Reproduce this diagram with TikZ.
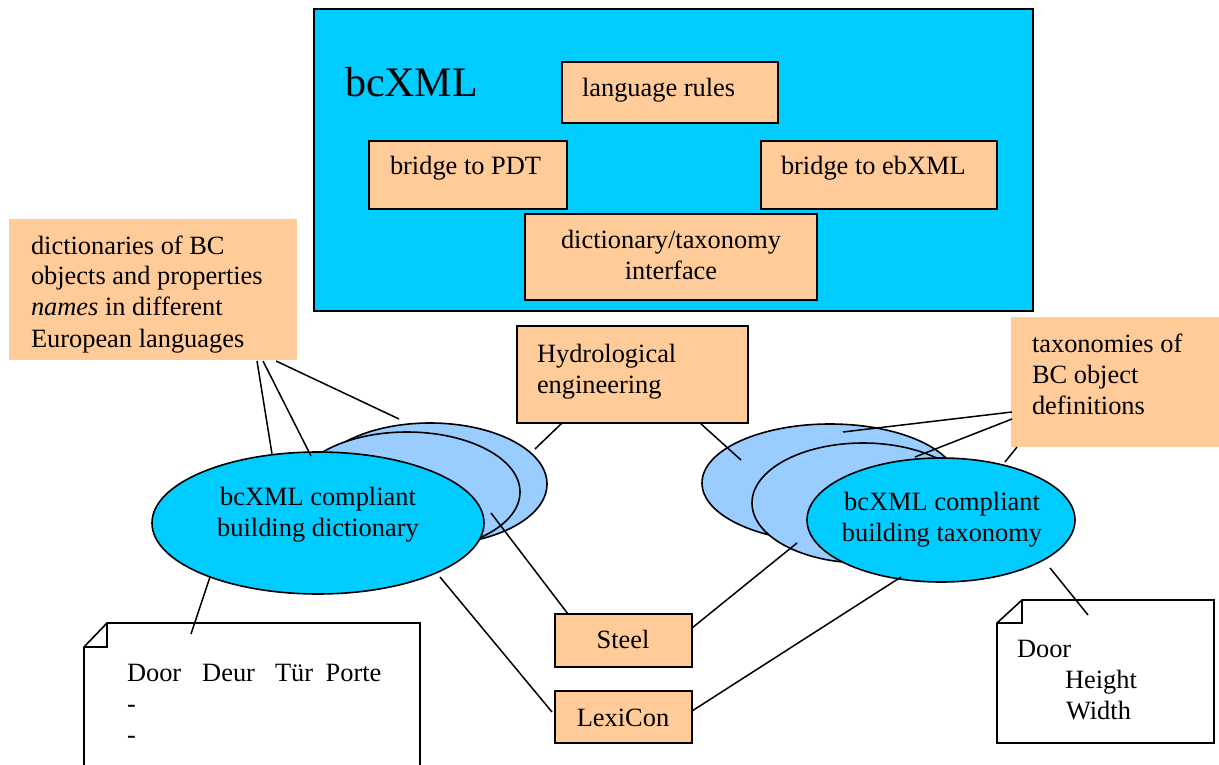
\documentclass[tikz,border=0pt]{standalone}
\usepackage{fontspec}
\setmainfont{Liberation Serif}
\usetikzlibrary{shapes.geometric,calc}
\definecolor{bccyan}{HTML}{00CCFF}
\definecolor{bclight}{HTML}{99CCFF}
\definecolor{peach}{HTML}{FFCC99}
% stacked lines whose reference point is the first baseline
\newcommand\leftlines[1]{\vtop{\baselineskip=31pt\halign{##\hfil\cr#1\crcr}}}
\newcommand\midlines[1]{\vtop{\baselineskip=31pt\halign{\hfil##\hfil\cr#1\crcr}}}
\begin{document}
\begin{tikzpicture}[x=1pt,y=-1pt,
  txt/.style={font=\fontsize{26.4}{31}\selectfont, inner sep=0pt, outer sep=0pt},
  box/.style={draw, line width=1.6pt, fill=peach, anchor=north west, inner sep=0pt, outer sep=0pt},
  note/.style={fill=peach, anchor=north west, inner sep=0pt, outer sep=0pt},
  oval/.style={ellipse, draw, line width=1.6pt, inner sep=0pt, outer sep=0pt},
  paper/.style={draw, line width=1.6pt, fill=white},
  link/.style={line width=1.5pt}]
\useasboundingbox (0,0) rectangle (1219,765);
\clip (0,0) rectangle (1219,765);

% bcXML frame and its components
\node[box, fill=bccyan, minimum width=719pt, minimum height=302pt] (frame) at (314,9) {};
\node[txt, anchor=base west, font=\fontsize{42}{48}\selectfont] (title) at (345,97) {bcXML};
\node[box, minimum width=216pt, minimum height=61pt] (rules) at (562,62) {};
\node[txt, anchor=base west] at (582,97) {language rules};
\node[box, minimum width=198pt, minimum height=68pt] (pdt) at (369,141) {};
\node[txt, anchor=base west] at (390,175) {bridge to PDT};
\node[box, minimum width=236pt, minimum height=68pt] (ebxml) at (761,141) {};
\node[txt, anchor=base west] at (781,175) {bridge to ebXML};
\node[box, minimum width=292pt, minimum height=86pt] (iface) at (525,214) {};
\node[txt, anchor=base] at (671,248) {\midlines{dictionary/taxonomy\cr interface}};

% annotations
\node[note, minimum width=288pt, minimum height=141pt] (dict) at (9,219) {};
\node[txt, anchor=base west] at (31,254) {\leftlines{dictionaries of BC\cr objects and properties\cr \textit{names} in different\cr European languages}};
\node[note, minimum width=212pt, minimum height=130pt] (tax) at (1011,317) {};
\node[txt, anchor=base west] at (1032,352) {\leftlines{taxonomies of\cr BC object\cr definitions}};

\node[box, minimum width=231pt, minimum height=97pt] (hydro) at (517,326) {};
\node[txt, anchor=base west] at (537,362) {\leftlines{Hydrological\cr engineering}};

% dictionary stack
\node[oval, fill=bclight, minimum width=234pt, minimum height=122pt] (dback) at (430,484) {};
\node[oval, fill=bclight, minimum width=226pt, minimum height=120pt] (dmid) at (407,492) {};
\node[oval, fill=bccyan, minimum width=332pt, minimum height=142pt] (dfront) at (318,523) {};
\node[txt, anchor=base] at (318,505) {\midlines{bcXML compliant\cr building dictionary}};

% taxonomy stack
\node[oval, fill=bclight, minimum width=256pt, minimum height=118pt] (tback) at (830,483) {};
\node[oval, fill=bclight, minimum width=222pt, minimum height=120pt] (tmid) at (863,503) {};
\node[oval, fill=bccyan, minimum width=268pt, minimum height=124pt] (tfront) at (941,520) {};
\node[txt, anchor=base] at (942,510) {\midlines{bcXML compliant\cr building taxonomy}};

% projects
\node[box, minimum width=137pt, minimum height=53pt] (steel) at (555,614) {};
\node[txt, anchor=base] at (623,648) {Steel};
\node[box, minimum width=137pt, minimum height=52pt] (lexicon) at (555,691) {};
\node[txt, anchor=base] at (623,726) {LexiCon};

% example pages with folded corners
\draw[paper] (107,623) -- (420,623) -- (420,780) -- (84,780) -- (84,647) -- cycle;
\draw[line width=1.6pt] (107,623) -- (107,647) -- (84,647);
\node[txt, anchor=base west] at (127,681) {\leftlines{Door\hspace*{21pt}Deur\hspace*{20pt}Tür\hspace*{12.5pt}Porte\cr -\cr -}};
\draw[paper] (1022,600) -- (1214,600) -- (1214,743) -- (997,743) -- (997,623) -- cycle;
\draw[line width=1.6pt] (1022,600) -- (1022,623) -- (997,623);
\node[txt, anchor=base west] at (1017,657) {\leftlines{Door\cr\hspace*{48pt}Height\cr\hspace*{49pt}Width}};

% connector ends
\coordinate (dict1) at ($(dict.south west)+(248,1)$);
\coordinate (dict2) at ($(dict.south west)+(254,1)$);
\coordinate (dict3) at ($(dict.south west)+(267,1)$);
\coordinate (dfrontA) at (272,454);
\coordinate (dfrontB) at (311,456);
\coordinate (dbackA) at (399,419);
\coordinate (dbackB) at (535,449);
\coordinate (hydroL) at ($(hydro.south west)+(45,0)$);
\coordinate (hydroR) at ($(hydro.south west)+(183,0)$);
\coordinate (tbackA) at (741,460);
\coordinate (dfrontC) at (210,577);
\coordinate (pageL) at (191,634);
\coordinate (dmidA) at (491,513);
\coordinate (steelTop) at ($(steel.north west)+(13,0)$);
\coordinate (dfrontD) at (440,577);
\coordinate (lexL) at ($(lexicon.west)+(-3,-5)$);
\coordinate (tmidA) at (797,543);
\coordinate (steelR) at ($(steel.north east)+(0,14)$);
\coordinate (tfrontA) at (901,577);
\coordinate (lexR) at ($(lexicon.east)+(0,-6)$);
\coordinate (tax1) at ($(tax.north west)+(1,95)$);
\coordinate (tax2) at ($(tax.north west)+(1,102)$);
\coordinate (tax3) at ($(tax.north west)+(6,130)$);
\coordinate (tbackB) at (843,432);
\coordinate (tmidB) at (915,457);
\coordinate (tfrontB) at (1005,462);
\coordinate (tfrontC) at (1050,568);
\coordinate (pageR) at (1088,615);

% connectors
\draw[link] (dict1) -- (dfrontA);
\draw[link] (dict2) -- (dfrontB);
\draw[link] (dict3) -- (dbackA);
\draw[link] (hydroL) -- (dbackB);
\draw[link] (hydroR) -- (tbackA);
\draw[link] (dfrontC) -- (pageL);
\draw[link] (dmidA) -- (steelTop);
\draw[link] (dfrontD) -- (lexL);
\draw[link] (tmidA) -- (steelR);
\draw[link] (tfrontA) -- (lexR);
\draw[link] (tax1) -- (tbackB);
\draw[link] (tax2) -- (tmidB);
\draw[link] (tax3) -- (tfrontB);
\draw[link] (tfrontC) -- (pageR);
\end{tikzpicture}
\end{document}
